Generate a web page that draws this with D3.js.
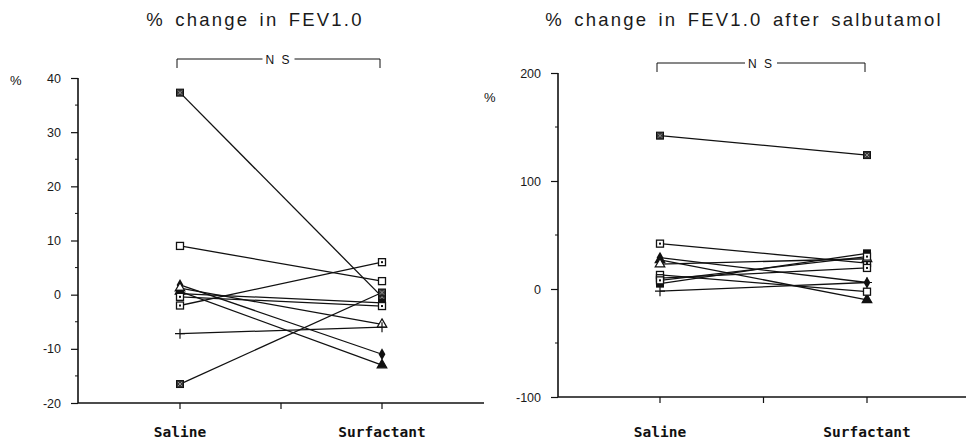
<!DOCTYPE html>
<html><head><meta charset="utf-8">
<script src="https://cdn.jsdelivr.net/npm/d3@7"></script>
<style>
body{margin:0;background:#fff;}
svg{display:block;}
.title{font-family:"Liberation Sans",Arial,sans-serif;font-size:18.5px;fill:#1a1a1a;letter-spacing:2.2px;word-spacing:3px;}
.tick text{font-family:"Liberation Sans",Arial,sans-serif;font-size:12.5px;fill:#1a1a1a;}
.cat{font-family:"DejaVu Sans Mono",monospace;font-weight:bold;font-size:14.5px;fill:#111;}
.ns{font-family:"Liberation Sans",Arial,sans-serif;font-size:12px;fill:#111;letter-spacing:2px;}
.pct{font-family:"Liberation Sans",Arial,sans-serif;font-size:13px;fill:#111;}
</style>
</head><body>
<svg id="chart" width="966" height="442"></svg>
<script>
// ---- data ----
const groups = ["Saline", "Surfactant"];
const leftTitle = "% change in FEV1.0";
const rightTitle = "% change in FEV1.0 after salbutamol";
const leftTicks = [40, 30, 20, 10, 0, -10, -20];
const rightTicks = [200, 100, 0, -100];
const leftSaline  = [37.3, 9.0, -2.0, 1.8, 0.6, 1.2, -7.2, -16.5, 0.2, -0.4];
const leftSurf    = [-0.4, 2.5, 6.0, -11.0, -13.0, -5.5, -6.0, 0.4, -1.5, -2.1];
const rightSaline = [142, 42, 29, 27, 23, 13, 10, 5, -2, 8];
const rightSurf   = [124, 24, 6, -10, 28, -2.5, 19.5, 33, 6, 30];
const leftMarks  = ["checker","opensq","dotsq","diamond","tri","otri","plus","checker","sq","dotsq"];
const rightMarks = ["checker","dotsq","diamond","tri","otri","opensq","dotsq","sq","plus","dotsq"];
const nsLabel = "N S";

const svg = d3.select("#chart");

function marker(g, type, x, y) {
  const s = 7;
  if (type === "opensq" || type === "dotsq") {
    g.append("rect").attr("x", x - s/2).attr("y", y - s/2).attr("width", s).attr("height", s)
      .attr("fill", "#fff").attr("stroke", "#111").attr("stroke-width", 1.3);
    if (type === "dotsq") g.append("rect").attr("x", x - 1).attr("y", y - 1).attr("width", 2).attr("height", 2).attr("fill", "#111");
  } else if (type === "checker" || type === "sq") {
    g.append("rect").attr("x", x - s/2).attr("y", y - s/2).attr("width", s).attr("height", s)
      .attr("fill", type === "checker" ? "#333" : "#111").attr("stroke", "#111").attr("stroke-width", 1);
    if (type === "checker") {
      g.append("path").attr("d", `M${x-2},${y-2}L${x+2},${y+2}M${x+2},${y-2}L${x-2},${y+2}`)
        .attr("stroke", "#aaa").attr("stroke-width", 0.8);
    }
  } else if (type === "diamond") {
    g.append("path").attr("d", d3.symbol(d3.symbolDiamond, 40)()).attr("transform", `translate(${x},${y})`).attr("fill", "#111");
  } else if (type === "tri" || type === "otri") {
    g.append("path").attr("d", d3.symbol(d3.symbolTriangle, 40)()).attr("transform", `translate(${x},${y})`)
      .attr("fill", type === "tri" ? "#111" : "#fff").attr("stroke", "#111").attr("stroke-width", 1.2);
  } else if (type === "plus") {
    g.append("path").attr("d", `M${x-5},${y}L${x+5},${y}M${x},${y-5}L${x},${y+5}`).attr("stroke", "#111").attr("stroke-width", 1.2);
  }
}

function panel(cfg, sal, sur, marks, ticks, minorTicks, title) {
  const y = d3.scaleLinear().domain(cfg.domain).range([cfg.bottom, cfg.top]);
  const x = d3.scalePoint().domain(groups).range([cfg.x0, cfg.x1]);
  const g = svg.append("g");

  // title
  g.append("text").attr("class", "title").attr("x", cfg.titleX).attr("y", cfg.titleY)
    .attr("text-anchor", "middle").text(title);

  // y axis
  const ya = g.append("g").attr("transform", `translate(${cfg.axisX},0)`)
    .call(d3.axisLeft(y).tickValues(ticks).tickSize(7).tickPadding(10).tickFormat(d => String(d)));
  ya.select(".domain").remove();
  ya.selectAll(".tick line").attr("stroke", "#111").attr("stroke-width", 1.2);
  g.append("g").selectAll("line").data(minorTicks).join("line")
    .attr("x1", cfg.axisX - 3).attr("x2", cfg.axisX).attr("y1", d => y(d)).attr("y2", d => y(d))
    .attr("stroke", "#111").attr("stroke-width", 1);
  g.append("line").attr("x1", cfg.axisX).attr("x2", cfg.axisX).attr("y1", y(cfg.domain[1])).attr("y2", cfg.bottom)
    .attr("stroke", "#111").attr("stroke-width", 1.6);

  // x axis
  g.append("line").attr("x1", cfg.axisX).attr("x2", cfg.xEnd).attr("y1", cfg.bottom).attr("y2", cfg.bottom)
    .attr("stroke", "#111").attr("stroke-width", 1.6);
  const xt = [x(groups[0]), (x(groups[0]) + x(groups[1])) / 2, x(groups[1])];
  g.append("g").selectAll("line").data(xt).join("line")
    .attr("x1", d => d).attr("x2", d => d).attr("y1", cfg.bottom).attr("y2", cfg.bottom + 6)
    .attr("stroke", "#111").attr("stroke-width", 1.2);
  g.append("g").selectAll("text").data(groups).join("text").attr("class", "cat")
    .attr("x", d => x(d)).attr("y", cfg.catY).attr("text-anchor", "middle").text(d => d);

  // % label
  g.append("text").attr("class", "pct").attr("x", cfg.pctX).attr("y", cfg.pctY).text("%");

  // NS bracket
  const bx0 = x(groups[0]) - 3, bx1 = x(groups[1]) - 2;
  g.append("path").attr("d", `M${bx0},${cfg.nsY + 9}V${cfg.nsY}H${bx1}V${cfg.nsY + 9}`)
    .attr("fill", "none").attr("stroke", "#111").attr("stroke-width", 1);
  const mid = (bx0 + bx1) / 2;
  g.append("rect").attr("x", mid - 16).attr("y", cfg.nsY - 7).attr("width", 32).attr("height", 14).attr("fill", "#fff");
  g.append("text").attr("class", "ns").attr("x", mid).attr("y", cfg.nsY + 4.5).attr("text-anchor", "middle").text(nsLabel);

  // lines + markers
  const lg = g.append("g");
  sal.forEach((v, i) => {
    lg.append("line").attr("x1", x(groups[0])).attr("y1", y(v)).attr("x2", x(groups[1])).attr("y2", y(sur[i]))
      .attr("stroke", "#111").attr("stroke-width", 1.3);
  });
  const mg = g.append("g");
  sal.forEach((v, i) => {
    marker(mg, marks[i], x(groups[0]), y(v));
    marker(mg, marks[i], x(groups[1]), y(sur[i]));
  });
}

panel({domain: [-20, 40], top: 78, bottom: 403, axisX: 78, xEnd: 484, x0: 180, x1: 382,
       titleX: 255, titleY: 26, catY: 437, pctX: 10, pctY: 85, nsY: 59},
      leftSaline, leftSurf, leftMarks, leftTicks, [35, 25, 15, 5, -5, -15], leftTitle);
panel({domain: [-100, 200], top: 73, bottom: 397, axisX: 558, xEnd: 966, x0: 660, x1: 867,
       titleX: 744, titleY: 26, catY: 437, pctX: 484, pctY: 102, nsY: 63},
      rightSaline, rightSurf, rightMarks, rightTicks, [150, 50, -50], rightTitle);
</script>
</body></html>
